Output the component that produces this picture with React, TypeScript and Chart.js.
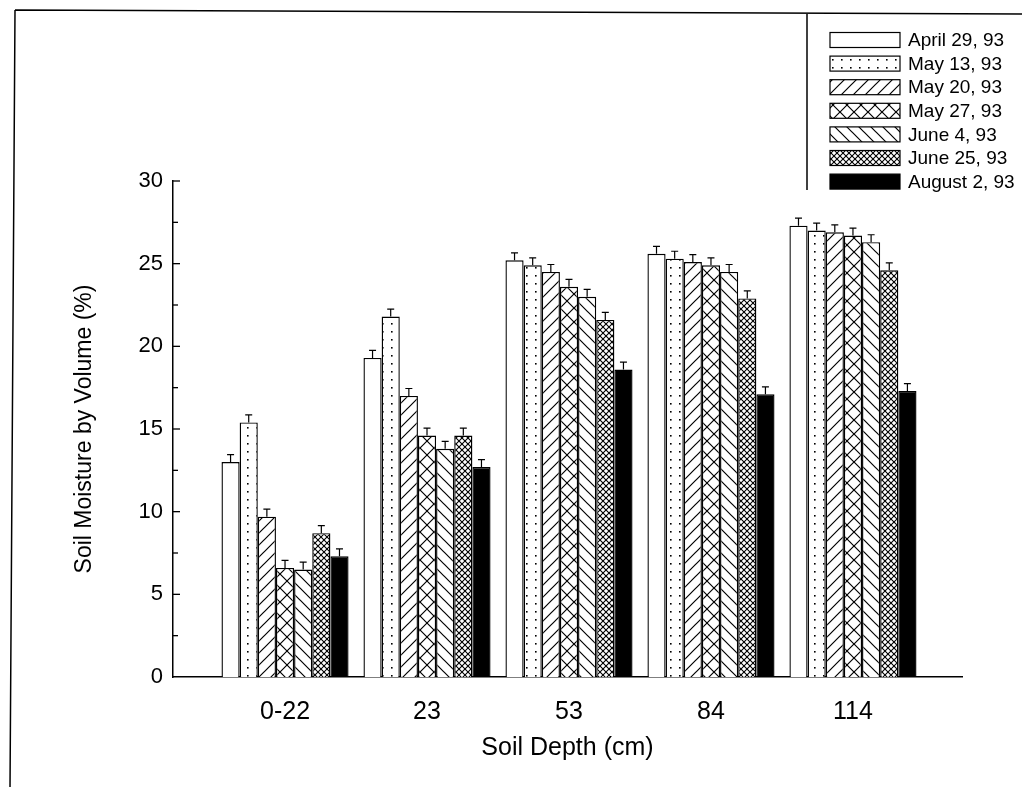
import React, { useEffect, useRef } from 'react';
import { Chart, registerables } from 'chart.js';

Chart.register(...registerables);

// ---------------- data ----------------
const categories = ['0-22', '23', '53', '84', '114'];
const seriesLabels = [
  'April 29, 93',
  'May 13, 93',
  'May 20, 93',
  'May 27, 93',
  'June 4, 93',
  'June 25, 93',
  'August 2, 93',
];
const april29 = [13.0, 19.3, 25.2, 25.6, 27.3];
const may13 = [15.4, 21.8, 24.9, 25.3, 27.0];
const may20 = [9.7, 17.0, 24.5, 25.1, 26.9];
const may27 = [6.6, 14.6, 23.6, 24.9, 26.7];
const june4 = [6.5, 13.8, 23.0, 24.5, 26.3];
const june25 = [8.7, 14.6, 21.6, 22.9, 24.6];
const august2 = [7.3, 12.7, 18.6, 17.1, 17.3];

const errApril29 = [0.45, 0.45, 0.45, 0.45, 0.45];
const errMay13 = [0.45, 0.45, 0.45, 0.45, 0.45];
const errMay20 = [0.45, 0.45, 0.45, 0.45, 0.45];
const errMay27 = [0.45, 0.45, 0.45, 0.45, 0.45];
const errJune4 = [0.45, 0.45, 0.45, 0.45, 0.45];
const errJune25 = [0.45, 0.45, 0.45, 0.45, 0.45];
const errAugust2 = [0.45, 0.45, 0.45, 0.45, 0.45];

const yTicks = [0, 5, 10, 15, 20, 25, 30];

const seriesValues = [april29, may13, may20, may27, june4, june25, august2];
const seriesErrors = [errApril29, errMay13, errMay20, errMay27, errJune4, errJune25, errAugust2];
const patternKinds = ['blank', 'dots', 'slash', 'cross', 'backslash', 'dense', 'solid'];

const FONT = "'Liberation Sans', Arial, Helvetica, sans-serif";

function makePattern(kind: string): CanvasPattern | string {
  if (kind === 'blank') return '#ffffff';
  if (kind === 'solid') return '#000000';
  const c = document.createElement('canvas');
  const ctx = c.getContext('2d')!;
  let s = 12;
  if (kind === 'dots') {
    c.width = 9;
    c.height = 8;
    ctx.fillStyle = '#fff';
    ctx.fillRect(0, 0, 9, 8);
    ctx.fillStyle = '#000';
    ctx.fillRect(4, 3, 1.6, 1.6);
    return ctx.createPattern(c, 'repeat')!;
  }
  if (kind === 'cross') s = 14;
  if (kind === 'dense') s = 6;
  c.width = s;
  c.height = s;
  ctx.fillStyle = '#fff';
  ctx.fillRect(0, 0, s, s);
  ctx.strokeStyle = '#000';
  ctx.lineWidth = kind === 'dense' ? 1.1 : 1.2;
  const fwd = () => {
    ctx.beginPath();
    ctx.moveTo(-s, 2 * s);
    ctx.lineTo(2 * s, -s);
    ctx.moveTo(-s, s);
    ctx.lineTo(s, -s);
    ctx.moveTo(0, 2 * s);
    ctx.lineTo(2 * s, 0);
    ctx.stroke();
  };
  const back = () => {
    ctx.beginPath();
    ctx.moveTo(-s, -s);
    ctx.lineTo(2 * s, 2 * s);
    ctx.moveTo(-s, 0);
    ctx.lineTo(s, 2 * s);
    ctx.moveTo(0, -s);
    ctx.lineTo(2 * s, s);
    ctx.stroke();
  };
  if (kind === 'slash') fwd();
  if (kind === 'backslash') back();
  if (kind === 'cross' || kind === 'dense') {
    fwd();
    back();
  }
  return ctx.createPattern(c, 'repeat')!;
}

export default function App() {
  const ref = useRef<HTMLCanvasElement | null>(null);

  useEffect(() => {
    const canvas = ref.current;
    if (!canvas) return;
    const fills = patternKinds.map(makePattern);

    const extras = {
      id: 'extras',
      afterDatasetsDraw(chart: any) {
        const ctx = chart.ctx;
        const ys = chart.scales.y;
        ctx.save();
        ctx.strokeStyle = '#000';
        ctx.lineWidth = 1.2;
        seriesValues.forEach((vals, i) => {
          const meta = chart.getDatasetMeta(i);
          meta.data.forEach((bar: any, j: number) => {
            const top = ys.getPixelForValue(vals[j] + seriesErrors[i][j]);
            ctx.beginPath();
            ctx.moveTo(bar.x, bar.y);
            ctx.lineTo(bar.x, top);
            ctx.moveTo(bar.x - 3.5, top);
            ctx.lineTo(bar.x + 3.5, top);
            ctx.stroke();
          });
        });
        ctx.restore();
      },
      afterDraw(chart: any) {
        const ctx = chart.ctx;
        const ys = chart.scales.y;
        const left = chart.chartArea.left;
        ctx.save();
        ctx.strokeStyle = '#000';
        // inside y ticks (major and minor)
        ctx.lineWidth = 1.3;
        for (let k = 0; k < yTicks.length; k++) {
          const v = yTicks[k];
          const y = ys.getPixelForValue(v);
          if (v > 0) {
            ctx.beginPath();
            ctx.moveTo(left, y);
            ctx.lineTo(left + 7, y);
            ctx.stroke();
          }
          if (k > 0) {
            const ym = ys.getPixelForValue(v - 2.5);
            ctx.beginPath();
            ctx.moveTo(left, ym);
            ctx.lineTo(left + 5, ym);
            ctx.stroke();
          }
        }
        // page frame
        ctx.lineWidth = 1.5;
        ctx.beginPath();
        ctx.moveTo(15, 10);
        ctx.lineTo(1022, 14);
        ctx.moveTo(15, 10);
        ctx.lineTo(10, 787);
        ctx.stroke();
        // legend box
        ctx.beginPath();
        ctx.moveTo(807, 14);
        ctx.lineTo(807, 190);
        ctx.stroke();
        ctx.font = `19px ${FONT}`;
        ctx.textBaseline = 'middle';
        ctx.textAlign = 'left';
        seriesLabels.forEach((lab, i) => {
          const cy = 40 + i * 23.6;
          ctx.fillStyle = fills[i] as any;
          ctx.fillRect(830, cy - 7.5, 70, 15);
          ctx.lineWidth = 1.2;
          ctx.strokeRect(830, cy - 7.5, 70, 15);
          ctx.fillStyle = '#000';
          ctx.fillText(lab, 908, cy + 1);
        });
        ctx.restore();
      },
    };

    const chart = new Chart(canvas, {
      type: 'bar',
      data: {
        datasets: seriesValues.map((vals, i) => ({
          label: seriesLabels[i],
          data: vals.map((v, j) => ({ x: j, y: v })),
          backgroundColor: fills[i] as any,
          borderColor: '#000',
          borderWidth: 1.4,
          barPercentage: 1.0,
          categoryPercentage: 0.895,
        })),
      },
      options: {
        responsive: false,
        animation: false,
        devicePixelRatio: 1,
        layout: { padding: { left: 63, right: 60, top: 181, bottom: 0 } },
        plugins: {
          legend: { display: false },
          tooltip: { enabled: false },
        },
        scales: {
          x: {
            type: 'linear',
            offset: false,
            min: -0.789,
            max: 4.768,
            grid: { display: false, drawTicks: false, offset: false },
            border: { display: true, color: '#000', width: 1.5 },
            ticks: {
              stepSize: 1,
              includeBounds: false,
              autoSkip: false,
              maxRotation: 0,
              minRotation: 0,
              padding: 20,
              color: '#000',
              font: { family: FONT, size: 25 },
              callback: (v: any) =>
                Number.isInteger(v) && categories[v] !== undefined ? categories[v] : '',
            },
            title: {
              display: true,
              text: 'Soil Depth (cm)',
              color: '#000',
              font: { family: FONT, size: 25 },
              padding: { top: 0, bottom: 24 },
            },
            afterFit: (scale: any) => {
              scale.height = 110;
            },
          },
          y: {
            type: 'linear',
            min: 0,
            max: 30,
            grid: { display: false, drawTicks: false },
            border: { display: true, color: '#000', width: 1.5 },
            ticks: {
              stepSize: 5,
              padding: 10,
              color: '#000',
              font: { family: FONT, size: 22 },
            },
            title: {
              display: true,
              text: 'Soil Moisture by Volume (%)',
              color: '#000',
              font: { family: FONT, size: 23 },
              padding: { top: 8, bottom: 0 },
            },
            afterFit: (scale: any) => {
              scale.width = 110;
            },
          },
        },
      },
      plugins: [extras],
    } as any);

    return () => chart.destroy();
  }, []);

  return (
    <div style={{ position: 'absolute', left: 0, top: 0, width: 1022, height: 787, background: '#fff' }}>
      <canvas ref={ref} width={1022} height={787} style={{ display: 'block', width: 1022, height: 787 }} />
    </div>
  );
}
